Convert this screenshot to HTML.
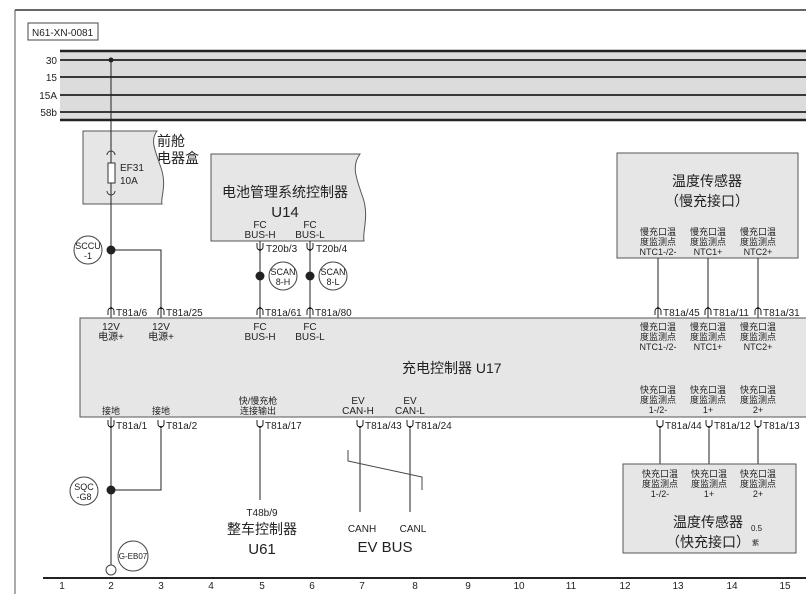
<!DOCTYPE html>
<html><head><meta charset="utf-8"><style>
html,body{margin:0;padding:0;background:#fff;}
svg{display:block;}
text{font-family:"Liberation Sans","Noto Sans CJK SC",sans-serif;fill:#222;}
.s{font-size:10px;}
.xs{font-size:9px;}
</style></head><body>
<svg width="806" height="594" viewBox="0 0 806 594" xmlns="http://www.w3.org/2000/svg">
<defs>
<g id="cu"><path d="M-3,3 L-3,-1 A3,3 0 0 1 3,-1 L3,3" fill="none" stroke="#222" stroke-width="1"/><path d="M-2,-3 L0,-6 L2,-3 Z" fill="#222"/></g>
<g id="cd"><path d="M-3,-3 L-3,1 A3,3 0 0 0 3,1 L3,-3" fill="none" stroke="#222" stroke-width="1"/><path d="M-2,3 L0,6 L2,3 Z" fill="#222"/></g>
</defs>
<!-- frame -->
<line x1="15" y1="10" x2="806" y2="10" stroke="#333" stroke-width="1.5"/>
<line x1="15" y1="10" x2="15" y2="594" stroke="#555" stroke-width="1"/>
<rect x="28" y="23" width="70" height="17" fill="#fff" stroke="#444"/>
<text x="32" y="36" class="s">N61-XN-0081</text>
<!-- bus -->
<rect x="60" y="50" width="746" height="71" fill="#dcdcdc"/>
<g stroke="#222"><line x1="60" y1="51" x2="806" y2="51" stroke-width="2.5"/><line x1="60" y1="120" x2="806" y2="120" stroke-width="2.5"/>
<line x1="60" y1="60" x2="806" y2="60" stroke-width="1.8"/><line x1="60" y1="77" x2="806" y2="77" stroke-width="1.8"/><line x1="60" y1="95" x2="806" y2="95" stroke-width="1.8"/><line x1="60" y1="112" x2="806" y2="112" stroke-width="1.8"/></g>
<g class="s" text-anchor="end"><text x="57" y="64">30</text><text x="57" y="81">15</text><text x="57" y="99">15A</text><text x="57" y="116">58b</text></g>
<circle cx="111" cy="60" r="2.5" fill="#222"/>
<!-- front box -->
<path d="M83,131 L157,131 C150,140 155,150 160,165 C168,185 160,198 162,204 L83,204 Z" fill="#e6e6e6" stroke="#555"/>
<text x="157" y="146" font-size="14">前舱</text><text x="157" y="163" font-size="14">电器盒</text>
<line x1="111" y1="60" x2="111" y2="565" stroke="#222"/>
<rect x="108" y="163" width="7" height="20" fill="#fff" stroke="#333"/>
<path d="M107,155 A4,4 0 0 1 115,155 M107,191 A4,4 0 0 0 115,191" fill="none" stroke="#333"/>
<text x="120" y="171" class="s">EF31</text><text x="120" y="184" class="s">10A</text>
<!-- BMS -->
<path d="M211,154 L360,154 C352,165 355,175 362,195 C370,215 362,232 364,241 L211,241 Z" fill="#e6e6e6" stroke="#555"/>
<text x="285" y="197" font-size="14" text-anchor="middle">电池管理系统控制器</text>
<text x="285" y="217" font-size="15" text-anchor="middle">U14</text>
<g class="s" text-anchor="middle"><text x="260" y="228">FC</text><text x="260" y="238">BUS-H</text><text x="310" y="228">FC</text><text x="310" y="238">BUS-L</text></g>
<line x1="260" y1="241" x2="260" y2="318" stroke="#222"/><line x1="310" y1="241" x2="310" y2="318" stroke="#222"/>
<use href="#cd" x="260" y="246"/><use href="#cd" x="310" y="246"/>
<text x="266" y="252" class="s">T20b/3</text><text x="316" y="252" class="s">T20b/4</text>
<circle cx="260" cy="276" r="4.5" fill="#222"/><circle cx="310" cy="276" r="4.5" fill="#222"/>
<circle cx="283" cy="276" r="14" fill="#fff" stroke="#444"/><circle cx="333" cy="276" r="14" fill="#fff" stroke="#444"/>
<g class="xs" text-anchor="middle"><text x="283" y="275">SCAN</text><text x="283" y="285">8-H</text><text x="333" y="275">SCAN</text><text x="333" y="285">8-L</text></g>
<!-- SCCU -->
<circle cx="88" cy="250" r="14" fill="#fff" stroke="#444"/>
<g class="xs" text-anchor="middle"><text x="88" y="249">SCCU</text><text x="88" y="259">-1</text></g>
<circle cx="111" cy="250" r="4.5" fill="#222"/>
<polyline points="111,250 161,250 161,318" fill="none" stroke="#222"/>
<!-- slow temp -->
<rect x="617" y="153" width="181" height="105" fill="#e6e6e6" stroke="#555"/>
<text x="707" y="186" font-size="14" text-anchor="middle">温度传感器</text>
<text x="707" y="206" font-size="14" text-anchor="middle">（慢充接口）</text>
<g class="xs" text-anchor="middle">
<text x="658" y="235">慢充口温</text><text x="658" y="245">度监测点</text><text x="658" y="255">NTC1-/2-</text>
<text x="708" y="235">慢充口温</text><text x="708" y="245">度监测点</text><text x="708" y="255">NTC1+</text>
<text x="758" y="235">慢充口温</text><text x="758" y="245">度监测点</text><text x="758" y="255">NTC2+</text></g>
<g stroke="#222"><line x1="658" y1="258" x2="658" y2="318"/><line x1="708" y1="258" x2="708" y2="318"/><line x1="758" y1="258" x2="758" y2="318"/></g>
<!-- U17 -->
<rect x="80" y="318" width="730" height="99" fill="#e6e6e6" stroke="#555"/>
<g class="s">
<use href="#cu" x="111" y="312"/><text x="116" y="316">T81a/6</text>
<use href="#cu" x="161" y="312"/><text x="166" y="316">T81a/25</text>
<use href="#cu" x="260" y="312"/><text x="265" y="316">T81a/61</text>
<use href="#cu" x="310" y="312"/><text x="315" y="316">T81a/80</text>
<use href="#cu" x="658" y="312"/><text x="663" y="316">T81a/45</text>
<use href="#cu" x="708" y="312"/><text x="713" y="316">T81a/11</text>
<use href="#cu" x="758" y="312"/><text x="763" y="316">T81a/31</text>
</g>
<g class="s" text-anchor="middle">
<text x="111" y="330">12V</text><text x="111" y="340">电源+</text>
<text x="161" y="330">12V</text><text x="161" y="340">电源+</text>
<text x="260" y="330">FC</text><text x="260" y="340">BUS-H</text>
<text x="310" y="330">FC</text><text x="310" y="340">BUS-L</text></g>
<g class="xs" text-anchor="middle">
<text x="658" y="330">慢充口温</text><text x="658" y="340">度监测点</text><text x="658" y="350">NTC1-/2-</text>
<text x="708" y="330">慢充口温</text><text x="708" y="340">度监测点</text><text x="708" y="350">NTC1+</text>
<text x="758" y="330">慢充口温</text><text x="758" y="340">度监测点</text><text x="758" y="350">NTC2+</text>
<text x="658" y="393">快充口温</text><text x="658" y="403">度监测点</text><text x="658" y="413">1-/2-</text>
<text x="708" y="393">快充口温</text><text x="708" y="403">度监测点</text><text x="708" y="413">1+</text>
<text x="758" y="393">快充口温</text><text x="758" y="403">度监测点</text><text x="758" y="413">2+</text>
<text x="111" y="414">接地</text><text x="161" y="414">接地</text>
<text x="258" y="404">快/慢充枪</text><text x="258" y="414">连接输出</text></g>
<g class="s" text-anchor="middle"><text x="358" y="404">EV</text><text x="358" y="414">CAN-H</text><text x="410" y="404">EV</text><text x="410" y="414">CAN-L</text></g>
<text x="402" y="373" font-size="14">充电控制器 U17</text>
<!-- bottom connectors -->
<g class="s">
<use href="#cd" x="111" y="423"/><text x="116" y="429">T81a/1</text>
<use href="#cd" x="161" y="423"/><text x="166" y="429">T81a/2</text>
<use href="#cd" x="260" y="423"/><text x="265" y="429">T81a/17</text>
<use href="#cd" x="360" y="423"/><text x="365" y="429">T81a/43</text>
<use href="#cd" x="410" y="423"/><text x="415" y="429">T81a/24</text>
<use href="#cd" x="660" y="423"/><text x="665" y="429">T81a/44</text>
<use href="#cd" x="709" y="423"/><text x="714" y="429">T81a/12</text>
<use href="#cd" x="758" y="423"/><text x="763" y="429">T81a/13</text></g>
<g stroke="#222" fill="none">
<polyline points="161,429 161,490 111,490"/>
<line x1="260" y1="429" x2="260" y2="500"/>
<line x1="360" y1="429" x2="360" y2="512"/><line x1="410" y1="429" x2="410" y2="512"/>
<polyline points="348,450 348,461 422,477 422,490" stroke="#444"/>
<line x1="660" y1="429" x2="660" y2="464"/><line x1="709" y1="429" x2="709" y2="464"/><line x1="758" y1="429" x2="758" y2="464"/></g>
<circle cx="111" cy="490" r="4.5" fill="#222"/>
<circle cx="84" cy="491" r="14" fill="#fff" stroke="#444"/>
<g class="xs" text-anchor="middle"><text x="84" y="490">SQC</text><text x="84" y="500">-G8</text></g>
<text x="262" y="516" class="s" text-anchor="middle">T48b/9</text>
<text x="262" y="534" font-size="14" text-anchor="middle">整车控制器</text>
<text x="262" y="554" font-size="15" text-anchor="middle">U61</text>
<text x="362" y="532" class="s" text-anchor="middle">CANH</text><text x="413" y="532" class="s" text-anchor="middle">CANL</text>
<text x="385" y="552" font-size="15" text-anchor="middle">EV BUS</text>
<!-- fast temp -->
<rect x="623" y="464" width="173" height="89" fill="#e6e6e6" stroke="#555"/>
<g class="xs" text-anchor="middle">
<text x="660" y="477">快充口温</text><text x="660" y="487">度监测点</text><text x="660" y="497">1-/2-</text>
<text x="709" y="477">快充口温</text><text x="709" y="487">度监测点</text><text x="709" y="497">1+</text>
<text x="758" y="477">快充口温</text><text x="758" y="487">度监测点</text><text x="758" y="497">2+</text></g>
<text x="708" y="527" font-size="14" text-anchor="middle">温度传感器</text>
<text x="751" y="531" font-size="8">0.5</text>
<text x="708" y="547" font-size="14" text-anchor="middle">（快充接口）</text>
<text x="752" y="545" font-size="7">紫</text>
<!-- ground -->
<circle cx="111" cy="570" r="5" fill="#fff" stroke="#444"/>
<circle cx="133" cy="556" r="15" fill="#fff" stroke="#444"/>
<text x="133" y="559" font-size="8" text-anchor="middle">G-EB07</text>
<!-- axis -->
<line x1="43" y1="578" x2="806" y2="578" stroke="#222" stroke-width="2"/>
<g class="s" text-anchor="middle">
<text x="62" y="589">1</text><text x="111" y="589">2</text><text x="161" y="589">3</text><text x="211" y="589">4</text><text x="262" y="589">5</text><text x="312" y="589">6</text><text x="362" y="589">7</text><text x="415" y="589">8</text><text x="468" y="589">9</text><text x="519" y="589">10</text><text x="571" y="589">11</text><text x="625" y="589">12</text><text x="678" y="589">13</text><text x="732" y="589">14</text><text x="785" y="589">15</text></g>
</svg>
</body></html>
